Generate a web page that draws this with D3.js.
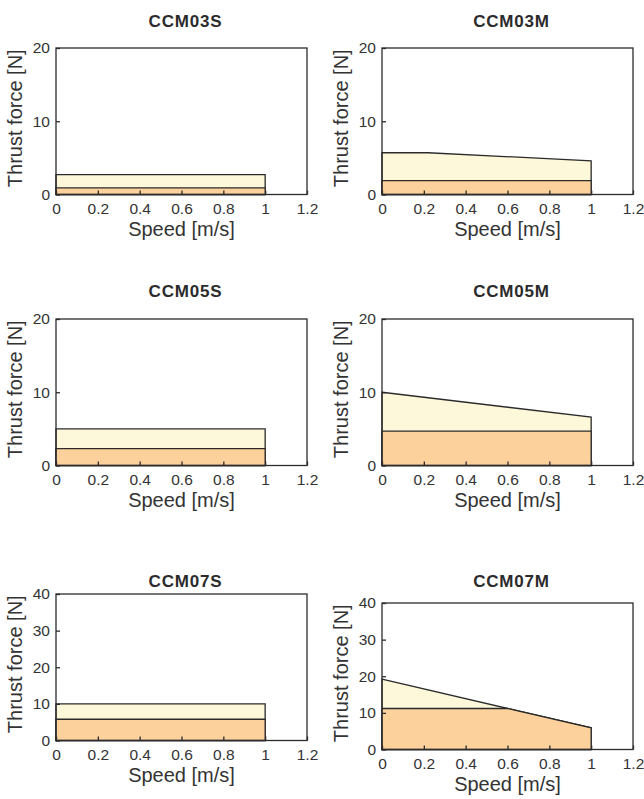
<!DOCTYPE html>
<html>
<head>
<meta charset="utf-8">
<script src="https://cdn.jsdelivr.net/npm/d3@7"></script>
<style>
  html, body { margin: 0; padding: 0; background: #fff; }
  svg { display: block; font-family: "Liberation Sans", Arial, Helvetica, sans-serif; }
</style>
</head>
<body>
<svg id="chart" width="644" height="799"></svg>
<script>
// ---- Data ----
const titles = ["CCM03S", "CCM03M", "CCM05S", "CCM05M", "CCM07S", "CCM07M"];
const yMaxima = [20, 20, 20, 20, 40, 40];
const yStep = 10;
const xTicks = [0, 0.2, 0.4, 0.6, 0.8, 1, 1.2];
const xLabel = "Speed [m/s]";
const yLabel = "Thrust force [N]";

// Maximum thrust curve (speed, force)
const maxSpeeds = [[0, 1], [0, 0.22, 1], [0, 1], [0, 1], [0, 1], [0, 1]];
const maxForces = [[2.7, 2.7], [5.7, 5.7, 4.6], [5.0, 5.0], [10, 6.6], [10, 10], [19.2, 5.9]];
// Continuous thrust curve (speed, force)
const contSpeeds = [[0, 1], [0, 1], [0, 1], [0, 1], [0, 1], [0, 0.6, 1]];
const contForces = [[0.9, 0.9], [1.9, 1.9], [2.3, 2.3], [4.7, 4.7], [5.8, 5.8], [11.2, 11.2, 5.9]];

// ---- Layout ----
const plotLeft = [56, 382, 56, 382, 56, 382];
const plotTop = [48, 48, 319, 319, 594, 603];
const plotW = 251, plotH = 146.5;
const titleY = [27, 27, 297, 297, 587, 587];

const colMax = "#fef8da";
const colCont = "#fdd19c";
const ink = "#2b2b2b";

const svg = d3.select("#chart");

titles.forEach((t, i) => {
  const g = svg.append("g").attr("transform", `translate(${plotLeft[i]},${plotTop[i]})`);
  const x = d3.scaleLinear().domain([0, 1.2]).range([0, plotW]);
  const y = d3.scaleLinear().domain([0, yMaxima[i]]).range([plotH, 0]);

  const area = d3.area().x(d => x(d[0])).y0(y(0)).y1(d => y(d[1]));
  const maxPts = maxSpeeds[i].map((s, k) => [s, maxForces[i][k]]);
  const contPts = contSpeeds[i].map((s, k) => [s, contForces[i][k]]);

  g.append("path").datum(maxPts).attr("d", d => area(d) )
    .attr("fill", colMax).attr("stroke", ink).attr("stroke-width", 1.3).attr("stroke-linejoin", "miter");
  g.append("path").datum(contPts).attr("d", d => area(d))
    .attr("fill", colCont).attr("stroke", ink).attr("stroke-width", 1.3).attr("stroke-linejoin", "miter");

  // axes
  const yTicks = d3.range(0, yMaxima[i] + 0.001, yStep);
  const xAxis = d3.axisBottom(x).tickValues(xTicks).tickFormat(d => String(d))
    .tickSizeInner(-4).tickSizeOuter(0).tickPadding(8);
  const yAxis = d3.axisLeft(y).tickValues(yTicks).tickFormat(d => String(d))
    .tickSizeInner(-4).tickSizeOuter(0).tickPadding(6);

  const gx = g.append("g").attr("transform", `translate(0,${plotH})`).call(xAxis);
  const gy = g.append("g").call(yAxis);
  [gx, gy].forEach(a => {
    a.select(".domain").remove();
    a.selectAll("line").attr("stroke", ink).attr("stroke-width", 1.3);
    a.selectAll("text").attr("fill", "#333").attr("font-size", 15.5).attr("font-family", "Liberation Sans, Arial, sans-serif");
  });

  // frame
  g.append("rect").attr("x", 0).attr("y", 0).attr("width", plotW).attr("height", plotH)
    .attr("fill", "none").attr("stroke", ink).attr("stroke-width", 1.3);

  // labels
  g.append("text").attr("x", plotW / 2).attr("y", plotH + 41)
    .attr("text-anchor", "middle").attr("font-size", 20).attr("fill", "#333").text(xLabel);
  g.append("text").attr("transform", `translate(-34,${plotH / 2 - 3}) rotate(-90)`)
    .attr("text-anchor", "middle").attr("font-size", 20).attr("fill", "#333").text(yLabel);

  svg.append("text").attr("x", plotLeft[i] + plotW / 2 + 4).attr("y", titleY[i])
    .attr("text-anchor", "middle").attr("font-size", 17).attr("font-weight", "bold")
    .attr("letter-spacing", 0.8).attr("fill", ink).text(t);
});
</script>
</body>
</html>
